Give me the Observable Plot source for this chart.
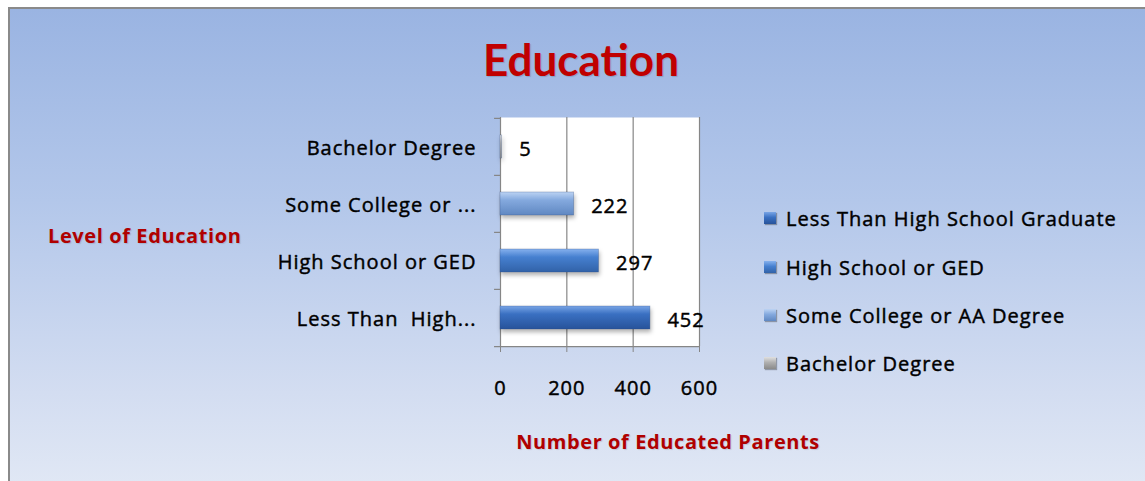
<!DOCTYPE html>
<html>
<head>
<meta charset="utf-8">
<script src="https://cdn.jsdelivr.net/npm/d3@7"></script>
<script src="https://cdn.jsdelivr.net/npm/@observablehq/plot@0.6"></script>
<style>
  html, body { margin: 0; padding: 0; background: #fff; }
  #wrap { position: relative; width: 1145px; height: 481px; overflow: hidden; font-family: "Open Sans", "Noto Sans", sans-serif; }
  #bg { position: absolute; left: 8px; top: 7px; width: 1145px; height: 480px;
        border-top: 2px solid #8a8a8a; border-left: 2px solid #8a8a8a;
        background: linear-gradient(to bottom, #9ab4e2 0%, #b3c7ea 40%, #d3ddf1 80%, #e1e8f5 100%); }
  #chart { position: absolute; left: 0; top: 0; }
  #chart svg text { letter-spacing: 1px; stroke: #000; stroke-width: 0.45px; }
  .title { position: absolute; left: 381px; width: 400px; top: 31px; text-align: center; font-family: Lato, sans-serif; font-size: 44px; font-weight: 700; color: #c00000; line-height: 56px; text-shadow: 1px 1px 1px rgba(0,0,0,0.15); }
  .axtitle { position: absolute; font-size: 20px; font-weight: 700; color: #b00000; line-height: 24px; white-space: nowrap; letter-spacing: 0.6px; text-shadow: 1px 1px 1px rgba(0,0,0,0.12); }
  .legend { position: absolute; left: 764px; top: 0; }
  .item { position: absolute; left: 0; height: 26px; display: flex; align-items: center; white-space: nowrap; font-size: 20px; letter-spacing: 1px; color: #000; -webkit-text-stroke: 0.45px #000; }
  .sw { width: 12px; height: 12px; margin-right: 10px; box-shadow: 1px 1px 1px rgba(0,0,0,0.3); }
</style>
</head>
<body>
<div id="wrap">
  <div id="bg"></div>
  <div id="chart"></div>
  <div class="title">Education</div>
  <div class="axtitle" id="ytitle" style="left:48px; top:224px;">Level of Education</div>
  <div class="axtitle" id="xtitle" style="left:468px; width:400px; text-align:center; top:430px;">Number of Educated Parents</div>
  <div class="legend" id="legend"></div>
</div>
<script>
// ---- data ----
const categories = ["Bachelor Degree", "Some College or AA Degree", "High School or GED", "Less Than  High School Graduate"];
const tickLabels = ["Bachelor Degree", "Some College or ...", "High School or GED", "Less Than  High..."];
const values = [5, 222, 297, 452];
const legendOrder = ["Less Than  High School Graduate", "High School or GED", "Some College or AA Degree", "Bachelor Degree"];
const xTicks = [0, 200, 400, 600];
const gradientStops = {
  "Less Than  High School Graduate": ["#79a5e6", "#3a70c2", "#27539a"],
  "High School or GED": ["#86b1ee", "#4680d0", "#3162a8"],
  "Some College or AA Degree": ["#bcd3f3", "#84a9de", "#6088c2"],
  "Bachelor Degree": ["#e0e0e0", "#b0b0b0", "#8a8a8a"]
};

const data = categories.map((c, i) => ({category: c, value: values[i]}));
const labelOf = new Map(categories.map((c, i) => [c, tickLabels[i]]));
const gid = c => "g" + categories.indexOf(c);

const W = 1145, H = 481;
const step = (346 - 117) / categories.length;
const axisColor = "#868686";
const font = "'Open Sans', 'Noto Sans', sans-serif";

const chart = Plot.plot({
  width: W,
  height: H,
  marginLeft: 500,
  marginRight: W - 699,
  marginTop: 117,
  marginBottom: H - 346,
  style: {background: "transparent", fontFamily: font, color: "#000"},
  x: {domain: [0, 600], axis: null, label: null},
  y: {domain: categories, padding: 0, axis: null, label: null},
  marks: [
    Plot.frame({fill: "white", stroke: null}),
    Plot.ruleX(xTicks.slice(1), {stroke: axisColor, strokeWidth: 1.2}),
    Plot.ruleX([0], {stroke: axisColor, strokeWidth: 1.2}),
    // y ticks at band edges
    Plot.ruleY(categories, {y: d => d, x1: -18, x2: 0, dy: -step / 2, stroke: axisColor, strokeWidth: 1.2}),
    Plot.ruleY(categories.slice(-1), {y: d => d, x1: -18, x2: 600, dy: step / 2, stroke: axisColor, strokeWidth: 1.2}),
    Plot.axisX({ticks: xTicks, tickSize: 6, tickPadding: 28, fontSize: 20, stroke: axisColor, label: null, tickFormat: d => String(d)}),
    Plot.axisY({tickSize: 0, tickPadding: 24, fontSize: 20, dy: 2, label: null, tickFormat: d => labelOf.get(d)}),
    ...categories.map(c => Plot.barX(data.filter(d => d.category === c), {
      x: "value", y: "category", insetTop: 17, insetBottom: 17,
      fill: `url(#${gid(c)})`, stroke: "#2a4a80", strokeOpacity: 0.35, strokeWidth: 0.8,
      className: "bars"
    })),
    Plot.text(data, {x: "value", y: "category", text: d => String(d.value), dx: 17, dy: 3, textAnchor: "start", fontSize: 20, fill: "#000"})
  ]
});

// gradient definitions for the 3D-look bars
const svgNS = "http://www.w3.org/2000/svg";
const defs = document.createElementNS(svgNS, "defs");
categories.forEach(c => {
  const lg = document.createElementNS(svgNS, "linearGradient");
  lg.setAttribute("id", gid(c));
  lg.setAttribute("x1", "0"); lg.setAttribute("y1", "0");
  lg.setAttribute("x2", "0"); lg.setAttribute("y2", "1");
  const stops = gradientStops[c];
  [[0, stops[0]], [0.35, stops[1]], [1, stops[2]]].forEach(([o, col]) => {
    const s = document.createElementNS(svgNS, "stop");
    s.setAttribute("offset", o);
    s.setAttribute("stop-color", col);
    lg.appendChild(s);
  });
  defs.appendChild(lg);
});
chart.insertBefore(defs, chart.firstChild);
chart.querySelectorAll(".bars").forEach(g => g.style.filter = "drop-shadow(1px 3px 2px rgba(0,0,0,0.3))");
document.getElementById("chart").appendChild(chart);

// legend
const legend = document.getElementById("legend");
const legendY = [218, 267, 315, 363];
legendOrder.forEach((c, i) => {
  const st = gradientStops[c];
  const item = document.createElement("div");
  item.className = "item";
  item.style.top = (legendY[i] - 13) + "px";
  const sw = document.createElement("div");
  sw.className = "sw";
  sw.style.background = `linear-gradient(to bottom, ${st[0]}, ${st[1]} 45%, ${st[2]})`;
  const tx = document.createElement("span");
  tx.textContent = c;
  item.appendChild(sw);
  item.appendChild(tx);
  legend.appendChild(item);
});
</script>
</body>
</html>
